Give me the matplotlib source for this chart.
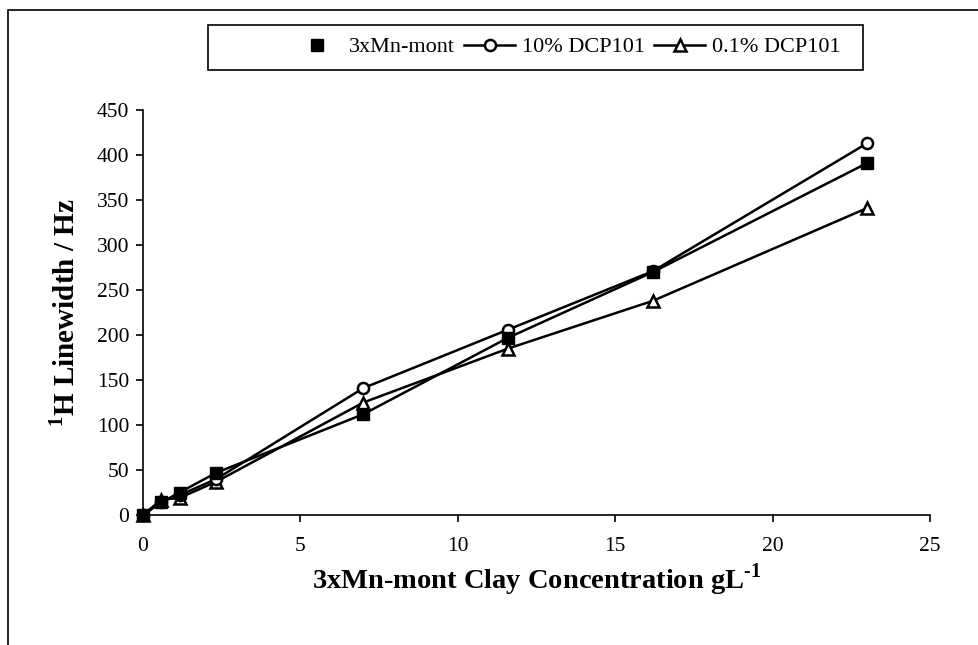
import numpy as np
import matplotlib.pyplot as plt
from matplotlib.lines import Line2D
from matplotlib.patches import Rectangle

plt.rcParams['font.family'] = ['Liberation Serif', 'DejaVu Serif']
plt.rcParams['mathtext.fontset'] = 'custom'
plt.rcParams['mathtext.rm'] = 'Liberation Serif'
plt.rcParams['mathtext.bf'] = 'Liberation Serif:bold'

# clay concentration (g/L)
conc = [0, 0.58, 1.16, 2.33, 7.0, 11.6, 16.2, 23.0]

# 1H linewidths (Hz)
mn_mont = [0, 14, 25, 47, 112, 197, 270, 391]
dcp_10 = [0, 15, 22, 40, 141, 206, 271, 413]
dcp_01 = [0, 17, 19, 37, 125, 185, 238, 341]

W, H = 979, 645
fig = plt.figure(figsize=(W / 100, H / 100), dpi=100)
ax = fig.add_axes([143 / W, 1 - 515 / H, (930 - 143) / W, (515 - 110) / H])

# chart-area border (top and left visible, rest cut off)
fig.add_artist(Rectangle((8 / W, -0.1), 1.1, 1 - 10 / H + 0.1,
                         transform=fig.transFigure, fill=False,
                         edgecolor='black', linewidth=1.2))

lw = 1.8
ax.plot(conc, dcp_01, color='black', lw=lw, marker='^', ms=9,
        mfc='white', mec='black', mew=1.8, zorder=3, clip_on=False)
ax.plot(conc, dcp_10, color='black', lw=lw, marker='o', ms=8,
        mfc='white', mec='black', mew=1.8, zorder=4, clip_on=False)
ax.plot(conc, mn_mont, color='black', lw=lw, marker='s', ms=8,
        mfc='black', mec='black', zorder=5, clip_on=False)

ax.set_xlim(0, 25)
ax.set_ylim(0, 450)
ax.set_xticks(np.arange(0, 26, 5))
ax.set_yticks(np.arange(0, 451, 50))
ax.spines['top'].set_visible(False)
ax.spines['right'].set_visible(False)
for s in ['left', 'bottom']:
    ax.spines[s].set_linewidth(1.2)
ax.tick_params(direction='out', length=5, width=1.2, labelsize=15.5)
ax.tick_params(axis='x', pad=11)
ax.tick_params(axis='y', pad=5)

ax.set_xlabel(r'3xMn-mont Clay Concentration gL$^{\mathbf{\text{-}1}}$',
              fontsize=20.5, fontweight='bold', labelpad=4)
ax.set_ylabel(r'$^{\mathbf{1}}$H Linewidth / Hz', fontsize=21,
              fontweight='bold', labelpad=12)

# legend: frame drawn separately (Excel style, wide left margin)
fig.add_artist(Rectangle((208 / W, 1 - 70 / H), (863 - 208) / W, 45 / H,
                         transform=fig.transFigure, fill=False,
                         edgecolor='black', linewidth=1.2))
handles = [
    Line2D([], [], ls='none', marker='s', ms=8, color='black'),
    Line2D([], [], color='black', lw=lw, marker='o', ms=8, mfc='white',
           mec='black', mew=1.8),
    Line2D([], [], color='black', lw=lw, marker='^', ms=9, mfc='white',
           mec='black', mew=1.8),
]
labels = ['3xMn-mont', '10% DCP101', '0.1% DCP101']
fig.legend(handles, labels, loc='center', ncol=3,
           bbox_to_anchor=(566 / W, 1 - 47 / H), fontsize=16,
           frameon=False, handlelength=2.3, borderpad=0,
           columnspacing=0.4, handletextpad=0.3)

fig.savefig('out.png', dpi=100)
